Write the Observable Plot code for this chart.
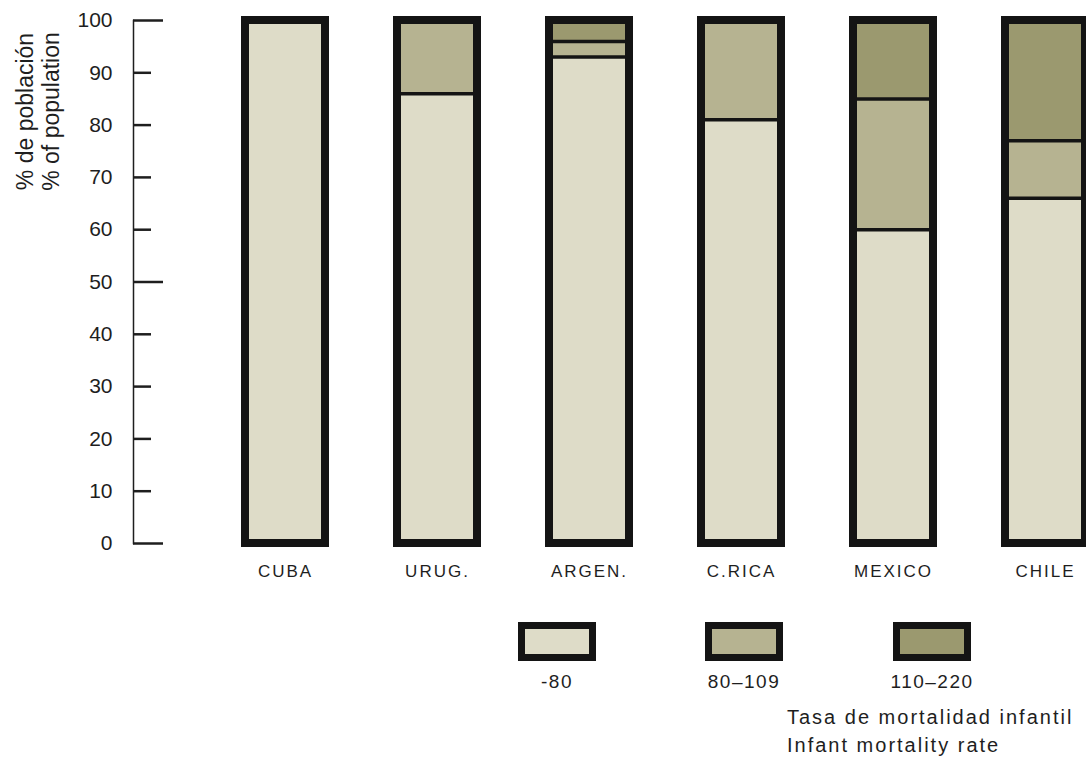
<!DOCTYPE html>
<html>
<head>
<meta charset="utf-8">
<script src="https://cdn.jsdelivr.net/npm/d3@7"></script>
<script src="https://cdn.jsdelivr.net/npm/@observablehq/plot@0.6"></script>
<style>
  body { margin: 0; background: #fff; font-family: "Liberation Sans", Arial, sans-serif; }
  #wrap { position: relative; width: 1086px; height: 760px; overflow: hidden; }
  #chart svg { display: block; }
  #chart svg g[aria-label="x-axis tick label"] text { letter-spacing: 2px; }
  .sw { position: absolute; box-sizing: border-box; width: 78px; height: 39px; border: 7px solid #141414; }
  .lab { position: absolute; width: 160px; text-align: center; font-size: 19px; color: #1e1e1e; letter-spacing: 1.5px; }
  .note { position: absolute; left: 787px; font-size: 20px; letter-spacing: 2px; color: #1e1e1e; white-space: nowrap; }
</style>
</head>
<body>
<div id="wrap">
  <div id="chart"></div>
  <div id="legend"></div>
</div>
<script>
// ---- data ----
const countries = ["CUBA", "URUG.", "ARGEN.", "C.RICA", "MEXICO", "CHILE"];
const lowShare  = [100, 86, 93, 81, 60, 66];   // infant mortality -80
const midShare  = [0, 14, 3, 19, 25, 11];      // 80–109
const highShare = [0, 0, 4, 0, 15, 23];        // 110–220
const classes = ["-80", "80\u2013109", "110\u2013220"];
const classColors = ["#dedcc8", "#b6b391", "#9b996f"];
const yTicks = [0, 10, 20, 30, 40, 50, 60, 70, 80, 90, 100];
const majorTicks = [0, 50, 100];
const yTitle = ["% de población", "% of population"];
const rateTitle = ["Tasa de mortalidad infantil", "Infant mortality rate"];

// ---- derived tables ----
const shares = [lowShare, midShare, highShare];
const segments = countries.flatMap((c, i) =>
  classes.map((k, j) => ({country: c, cls: k, value: shares[j][i]})));
const totals = countries.map((c, i) => ({country: c, total: lowShare[i] + midShare[i] + highShare[i]}));
const dividers = countries.flatMap((c, i) => {
  const b = [];
  if (midShare[i] + highShare[i] > 0) b.push({country: c, y: lowShare[i]});
  if (midShare[i] > 0 && highShare[i] > 0) b.push({country: c, y: lowShare[i] + midShare[i]});
  return b;
});
const minorTicks = yTicks.filter(t => !majorTicks.includes(t));

const chart = Plot.plot({
  width: 1086,
  height: 600,
  marginTop: 20,
  marginBottom: 57,
  marginLeft: 133,
  marginRight: 0,
  style: {fontFamily: "'Liberation Sans', Arial, sans-serif", color: "#1e1e1e", background: "#fff"},
  x: {domain: countries, range: [245, 1085], paddingInner: 72 / 152, paddingOuter: 0, label: null},
  y: {domain: [0, 100], label: null},
  color: {domain: classes, range: classColors},
  marks: [
    Plot.barY(segments, {x: "country", y: "value", fill: "cls"}),
    Plot.tickY(dividers, {x: "country", y: "y", stroke: "#141414", strokeWidth: 3.5}),
    Plot.barY(totals, {x: "country", y: "total", fill: "none", stroke: "#141414", strokeWidth: 8}),
    Plot.frame({anchor: "left", stroke: "#1e1e1e", strokeWidth: 1.5}),
    Plot.axisY({ticks: minorTicks, tickSize: -18, text: null, stroke: "#1e1e1e", strokeWidth: 2.5}),
    Plot.axisY({ticks: majorTicks, tickSize: -30, text: null, stroke: "#1e1e1e", strokeWidth: 2.5}),
    Plot.axisY({ticks: yTicks, tickSize: 0, tickPadding: 21, fontSize: 21}),
    Plot.axisX({tickSize: 0, tickPadding: 21, fontSize: 17}),
    Plot.text([yTitle.join("\n")], {
      frameAnchor: "top-left", rotate: -90, dx: -119, dy: 91,
      fontSize: 23, lineHeight: 1.13, textAnchor: "middle", fill: "#1e1e1e"
    })
  ]
});
document.getElementById("chart").append(chart);

// ---- legend (HTML, below the SVG) ----
const legend = document.getElementById("legend");
const swLeft = [518, 705, 893];
classes.forEach((k, i) => {
  const s = document.createElement("div");
  s.className = "sw";
  s.style.left = swLeft[i] + "px";
  s.style.top = "622px";
  s.style.background = classColors[i];
  legend.append(s);
  const l = document.createElement("div");
  l.className = "lab";
  l.textContent = k;
  l.style.left = (swLeft[i] + 39 - 80) + "px";
  l.style.top = "671px";
  legend.append(l);
});
rateTitle.forEach((t, i) => {
  const n = document.createElement("div");
  n.className = "note";
  n.textContent = t;
  n.style.top = (706 + i * 28) + "px";
  legend.append(n);
});
</script>
</body>
</html>
